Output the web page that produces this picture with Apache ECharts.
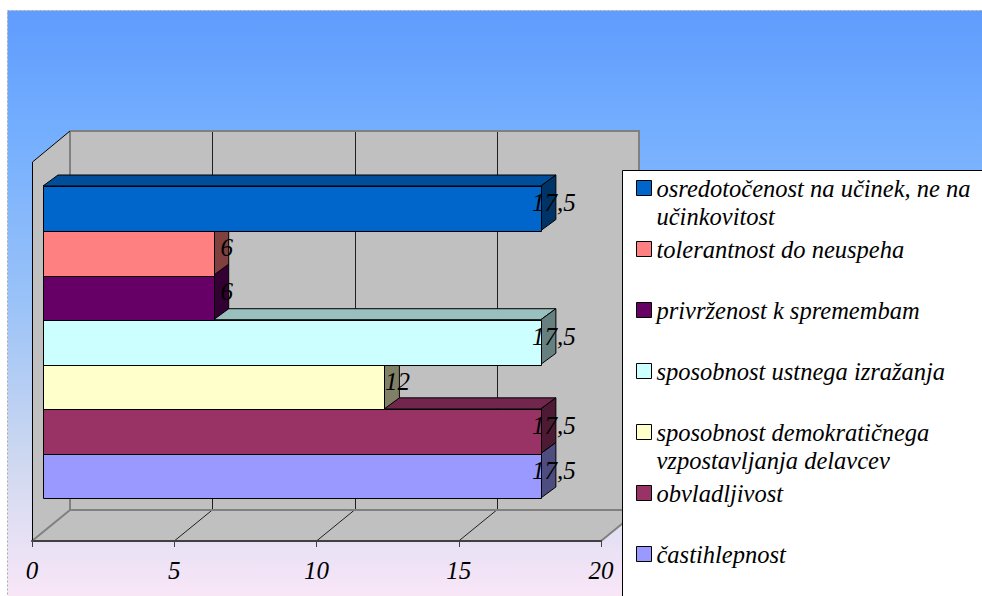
<!DOCTYPE html>
<html>
<head>
<meta charset="utf-8">
<script src="https://cdn.jsdelivr.net/npm/echarts@6/dist/echarts.min.js"></script>
<style>
  html, body { margin: 0; padding: 0; background: #ffffff; }
  #chart { width: 982px; height: 596px; }
</style>
</head>
<body>
<div id="chart"></div>
<script>
// Legend labels (line breaks where the legend wraps them)
const legendLabels = [
  'osredotočenost na učinek, ne na\nučinkovitost',
  'tolerantnost do neuspeha',
  'privrženost k spremembam',
  'sposobnost ustnega izražanja',
  'sposobnost demokratičnega\nvzpostavljanja delavcev',
  'obvladljivost',
  'častihlepnost'
];
// One value per series
const seriesValues = [17.5, 6, 6, 17.5, 12, 17.5, 17.5];
// Value axis ticks
const axisTicks = [0, 5, 10, 15, 20];

const seriesNames = legendLabels.map(s => s.replace('\n', ' '));
const seriesColors = ['#0066CC', '#FF8080', '#660066', '#CCFFFF', '#FFFFCC', '#993366', '#9999FF'];

// 3D projection offsets (px)
const BAR_FRONT = { dx: 11, dy: -9 };   // bar front plane relative to axis plane
const BAR_DEPTH = { dx: 15, dy: -11 };  // bar thickness
const WALL = { dx: 38, dy: -31 };       // floor / back wall depth
const WALL_ABOVE = 33;                  // wall top above the category band
const FLOOR_BELOW = 34;                 // floor front edge below the category band

const SERIF = 'Liberation Serif';
const LEGEND_LINE = 28;
const LEGEND_FIRST = 188;
const LEGEND_STEP = 61;

function shade(hex, f) {
  const n = parseInt(hex.slice(1), 16);
  const r = Math.round(((n >> 16) & 255) * f);
  const g = Math.round(((n >> 8) & 255) * f);
  const b = Math.round((n & 255) * f);
  return 'rgb(' + r + ',' + g + ',' + b + ')';
}
const px = v => Math.round(v) + 0.5;
const fmt = v => String(v).replace('.', ',');

function line(x1, y1, x2, y2, color, width) {
  return {
    type: 'line',
    shape: { x1: x1, y1: y1, x2: x2, y2: y2 },
    style: { stroke: color, lineWidth: width }
  };
}

// Walls, floor and their gridlines of the 3D plot box
function renderWalls(params, api) {
  const cs = params.coordSys;
  const xl = api.coord([axisTicks[0], 0])[0];
  const xr = api.coord([axisTicks[axisTicks.length - 1], 0])[0];
  const yt = cs.y - WALL_ABOVE;
  const yf = cs.y + cs.height + FLOOR_BELOW;
  const bx = WALL.dx, by = WALL.dy;
  const fill = '#C0C0C0';
  const children = [
    { type: 'polygon', shape: { points: [[xl + bx, yt + by], [xr + bx, yt + by], [xr + bx, yf + by], [xl + bx, yf + by]] }, style: { fill: fill } },
    { type: 'polygon', shape: { points: [[xl, yt], [xl + bx, yt + by], [xl + bx, yf + by], [xl, yf]] }, style: { fill: fill } },
    { type: 'polygon', shape: { points: [[xl, yf], [xr, yf], [xr + bx, yf + by], [xl + bx, yf + by]] }, style: { fill: fill } }
  ];
  axisTicks.slice(1, -1).forEach(t => {
    const x = api.coord([t, 0])[0];
    children.push(line(px(x + bx), yt + by, px(x + bx), yf + by, '#202020', 1));
    children.push(line(x, yf, x + bx, yf + by, '#202020', 1));
  });
  children.push(
    { type: 'polyline', shape: { points: [[xl + bx, yt + by], [xr + bx, yt + by], [xr + bx, yf + by]] }, style: { stroke: '#808080', lineWidth: 2, fill: null } },
    line(xl + bx, yt + by, xl + bx, yf + by, '#808080', 2),
    line(xl + bx, yf + by, xr + bx, yf + by, '#808080', 2),
    line(xl, yf, xl + bx, yf + by, '#808080', 2),
    line(xr, yf, xr + bx, yf + by, '#808080', 2),
    { type: 'polyline', shape: { points: [[px(xl), yf], [px(xl), yt], [xl + bx, yt + by]] }, style: { stroke: '#000000', lineWidth: 1, fill: null } }
  );
  return { type: 'group', children: children };
}

// A 3D bar: front face, top face, end face, plus value label
function renderBar(params, api) {
  const v = api.value(0);
  const cat = api.value(1);
  const end = api.coord([v, cat]);
  const x0 = api.coord([0, cat])[0];
  const h = api.size([0, 1])[1];
  const base = api.visual('color');
  const left = x0 + BAR_FRONT.dx, right = end[0] + BAR_FRONT.dx;
  const top = end[1] - h / 2 + BAR_FRONT.dy, bottom = end[1] + h / 2 + BAR_FRONT.dy;
  const dx = BAR_DEPTH.dx, dy = BAR_DEPTH.dy;
  const edge = { stroke: '#000000', lineWidth: 1 };
  return {
    type: 'group',
    children: [
      { type: 'polygon', shape: { points: [[left, top], [left + dx, top + dy], [right + dx, top + dy], [right, top]] },
        style: Object.assign({ fill: shade(base, 0.75) }, edge) },
      { type: 'polygon', shape: { points: [[right, top], [right + dx, top + dy], [right + dx, bottom + dy], [right, bottom]] },
        style: Object.assign({ fill: shade(base, 0.5) }, edge) },
      { type: 'rect', shape: { x: px(left), y: px(top), width: Math.round(right - left), height: Math.round(bottom - top) },
        style: Object.assign({ fill: base }, edge) },
      { type: 'text', x: right + 13, y: (top + bottom) / 2 - 5.5,
        style: { text: fmt(v), align: 'center', verticalAlign: 'middle', fill: '#000000',
                 fontFamily: SERIF, fontStyle: 'italic', fontSize: 25 } }
    ]
  };
}

const series = [{
  type: 'custom',
  name: 'walls',
  z: 1,
  silent: true,
  clip: false,
  renderItem: renderWalls,
  data: [[0, 0]]
}];
seriesNames.forEach((name, i) => {
  series.push({
    type: 'custom',
    name: name,
    z: 2 + (seriesNames.length - i),
    clip: false,
    itemStyle: { color: seriesColors[i] },
    renderItem: renderBar,
    data: [[seriesValues[i], i]]
  });
});

// One legend block per series; a wrapped label gets a leading empty line
// so that its first line sits level with the colour key.
const legends = seriesNames.map((name, i) => {
  const twoLine = legendLabels[i].indexOf('\n') >= 0;
  const boxH = twoLine ? 3 * LEGEND_LINE : LEGEND_LINE;
  return {
    data: [name],
    orient: 'vertical',
    left: 636,
    top: LEGEND_FIRST + i * LEGEND_STEP - boxH / 2,
    padding: 0,
    itemWidth: 15,
    itemHeight: 15,
    icon: 'rect',
    selectedMode: false,
    z: 101,
    itemStyle: { borderColor: '#000000', borderWidth: 1 },
    formatter: () => (twoLine ? '\n' : '') + legendLabels[i],
    textStyle: {
      fontFamily: SERIF, fontStyle: 'italic', fontSize: 24.5,
      lineHeight: LEGEND_LINE, color: '#000000'
    }
  };
});

const option = {
  animation: false,
  backgroundColor: '#ffffff',
  textStyle: { fontFamily: SERIF, fontStyle: 'italic' },
  graphic: [
    {
      type: 'rect', z: -1, silent: true,
      shape: { x: 7.5, y: 10.5, width: 990, height: 600 },
      style: {
        fill: new echarts.graphic.LinearGradient(0, 0, 0, 1, [
          { offset: 0, color: '#5F9CFD' },
          { offset: 0.2, color: '#73AEFE' },
          { offset: 0.48, color: '#99C2F8' },
          { offset: 0.75, color: '#CED8F0' },
          { offset: 1, color: '#FDE8F8' }
        ]),
        stroke: '#A8A8A8', lineWidth: 1, lineDash: [2, 2]
      }
    },
    {
      type: 'rect', z: 100, silent: true,
      shape: { x: 622.5, y: 170.5, width: 420, height: 500 },
      style: { fill: '#ffffff', stroke: '#000000', lineWidth: 1 }
    }
  ],
  legend: legends,
  grid: { left: 32, right: 381, top: 195, bottom: 89, outerBoundsMode: 'none', containLabel: false },
  xAxis: {
    type: 'value',
    min: axisTicks[0],
    max: axisTicks[axisTicks.length - 1],
    interval: axisTicks[1] - axisTicks[0],
    offset: FLOOR_BELOW,
    z: 5,
    axisLine: { show: true, lineStyle: { color: '#404040', width: 2 } },
    axisTick: { show: true, length: 6, lineStyle: { color: '#404040', width: 1 } },
    splitLine: { show: false },
    axisLabel: {
      showMinLabel: true, showMaxLabel: true,
      fontFamily: SERIF, fontStyle: 'italic', fontSize: 25, color: '#000000', margin: 17
    }
  },
  yAxis: {
    type: 'category',
    inverse: true,
    data: seriesNames,
    show: false
  },
  series: series
};

// SVG output lets the browser resolve the serif face for every label
const chart = echarts.init(document.getElementById('chart'), null, { renderer: 'svg' });
chart.setOption(option);
</script>
</body>
</html>
